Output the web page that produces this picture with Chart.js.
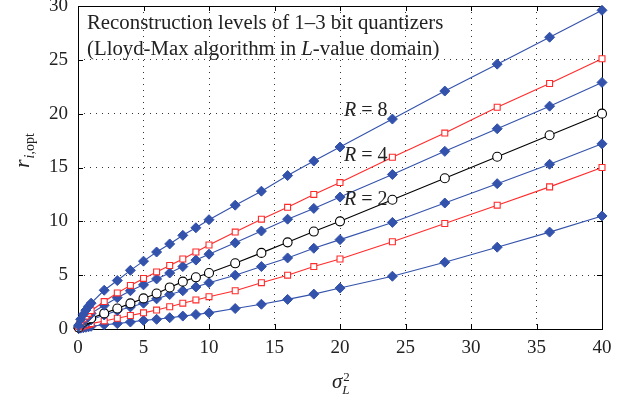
<!DOCTYPE html>
<html>
<head>
<meta charset="utf-8">
<script src="https://cdn.jsdelivr.net/npm/chart.js@4.4.0/dist/chart.umd.min.js"></script>
<style>
  html, body { margin: 0; padding: 0; background: #fff; }
</style>
</head>
<body>
<canvas id="quantChart" width="637" height="402"></canvas>
<script>
// sigma_L^2 sample points
const sigma2 = [0.05, 0.2, 0.4, 0.6, 0.8, 1, 2, 3, 4, 5, 6, 7, 8, 9, 10, 12, 14, 16, 18, 20, 24, 28, 32, 36, 40];

// 3 bit quantizer (4 positive levels), blue diamonds
const bit3Level4 = [0.35, 0.9, 1.35, 1.75, 2.1, 2.4, 3.6, 4.5, 5.45, 6.3, 7.15, 7.9, 8.7, 9.4, 10.15, 11.5, 12.8, 14.25, 15.6, 16.9, 19.5, 22.1, 24.6, 27.1, 29.6];
const bit3Level3 = [0.2, 0.5, 0.75, 0.95, 1.15, 1.45, 2.2, 2.9, 3.55, 4.1, 4.65, 5.2, 5.8, 6.4, 6.95, 8.0, 9.1, 10.2, 11.2, 12.25, 14.35, 16.5, 18.6, 20.7, 22.9];
const bit3Level2 = [0.1, 0.3, 0.45, 0.6, 0.72, 0.85, 1.3, 1.7, 2.05, 2.4, 2.8, 3.2, 3.55, 3.9, 4.3, 5.0, 5.8, 6.6, 7.5, 8.3, 9.9, 11.7, 13.5, 15.3, 17.2];
const bit3Level1 = [0.03, 0.08, 0.12, 0.16, 0.2, 0.25, 0.4, 0.5, 0.65, 0.8, 0.9, 1.05, 1.2, 1.35, 1.5, 1.9, 2.3, 2.75, 3.24, 3.8, 4.9, 6.2, 7.6, 9.0, 10.5];

// 2 bit quantizer (2 positive levels), red squares
const bit2Level2 = [0.25, 0.65, 0.95, 1.2, 1.45, 1.7, 2.55, 3.35, 4.05, 4.7, 5.3, 5.9, 6.5, 7.15, 7.8, 9.0, 10.2, 11.3, 12.5, 13.6, 15.95, 18.2, 20.6, 22.8, 25.1];
const bit2Level1 = [0.06, 0.18, 0.27, 0.35, 0.42, 0.5, 0.75, 1.0, 1.25, 1.5, 1.76, 2.07, 2.4, 2.7, 3.0, 3.55, 4.3, 5.0, 5.8, 6.5, 8.1, 9.8, 11.5, 13.2, 15.0];

// 1 bit quantizer, black circles
const bit1Level1 = [0.15, 0.45, 0.65, 0.8, 0.92, 1.0, 1.45, 1.9, 2.38, 2.84, 3.3, 3.86, 4.4, 4.8, 5.2, 6.1, 7.07, 8.05, 9.05, 10.0, 12.0, 14.0, 16.0, 18.0, 20.0];

const xTickStep = 5;
const yTickStep = 5;

const serif = '"Liberation Serif", "DejaVu Serif", serif';
const blue = '#3352ab';
const red = '#ff2b2b';

function toPoints(values) {
	return sigma2.map((s, i) => ({x: s, y: values[i]}));
}

function blueSet(values) {
	return {
		data: toPoints(values),
		borderColor: blue,
		backgroundColor: blue,
		borderWidth: 1.1,
		pointStyle: 'rectRot',
		pointRadius: 5,
		pointBorderWidth: 1,
		clip: false
	};
}

function redSet(values) {
	return {
		data: toPoints(values),
		borderColor: red,
		backgroundColor: '#ffffff',
		borderWidth: 1.1,
		pointStyle: 'rect',
		pointRadius: 4.2,
		pointBorderWidth: 1.1,
		clip: false
	};
}

function blackSet(values) {
	return {
		data: toPoints(values),
		borderColor: '#000000',
		backgroundColor: '#ffffff',
		borderWidth: 1.1,
		pointStyle: 'circle',
		pointRadius: 4.5,
		pointBorderWidth: 1.1,
		clip: false
	};
}

// box around the plot with MATLAB style inward ticks
const framePlugin = {
	id: 'frame',
	beforeDatasetsDraw(chart) {
		const {ctx, chartArea: a, scales} = chart;
		ctx.save();
		ctx.strokeStyle = '#000';
		ctx.lineWidth = 1;
		ctx.strokeRect(a.left + 0.5, a.top + 0.5, a.right - a.left, a.bottom - a.top);
		ctx.beginPath();
		scales.x.ticks.forEach(t => {
			let px = Math.round(scales.x.getPixelForValue(t.value)) + 0.5;
			ctx.moveTo(px, a.bottom); ctx.lineTo(px, a.bottom - 5);
			ctx.moveTo(px, a.top); ctx.lineTo(px, a.top + 5);
		});
		scales.y.ticks.forEach(t => {
			let py = Math.round(scales.y.getPixelForValue(t.value)) + 0.5;
			ctx.moveTo(a.left, py); ctx.lineTo(a.left + 5, py);
			ctx.moveTo(a.right, py); ctx.lineTo(a.right - 5, py);
		});
		ctx.stroke();
		ctx.restore();
	}
};

function drawRuns(ctx, runs, x, y) {
	runs.forEach(r => {
		ctx.font = r.font;
		ctx.fillText(r.text, x, y + (r.dy || 0));
		x += ctx.measureText(r.text).width + (r.gap || 0);
	});
	return x;
}

const textPlugin = {
	id: 'texts',
	afterDraw(chart) {
		const {ctx, chartArea: a, scales} = chart;
		ctx.save();
		ctx.fillStyle = '#222';
		ctx.textBaseline = 'alphabetic';
		ctx.textAlign = 'left';

		// caption inside the plot
		ctx.font = '20.8px ' + serif;
		ctx.fillText('Reconstruction levels of 1\u20133 bit quantizers', a.left + 9, 29);
		drawRuns(ctx, [
			{text: '(Lloyd-Max algorithm in ', font: '20.8px ' + serif},
			{text: 'L', font: 'italic 20.8px ' + serif},
			{text: '-value domain)', font: '20.8px ' + serif}
		], a.left + 9, 55);

		// R labels
		[['8', 19.8], ['4', 15.65], ['2', 11.5]].forEach(([r, v]) => {
			let px = scales.x.getPixelForValue(20.3);
			let py = scales.y.getPixelForValue(v);
			drawRuns(ctx, [
				{text: 'R', font: 'italic 20px ' + serif},
				{text: ' = ' + r, font: '20px ' + serif}
			], px, py);
		});

		// x axis title: sigma_L^2
		let cx = (a.left + a.right) / 2 - 8;
		ctx.font = 'italic 21px ' + serif;
		ctx.fillText('\u03c3', cx, 388);
		let w = ctx.measureText('\u03c3').width;
		ctx.font = 'italic 13px ' + serif;
		ctx.fillText('L', cx + w, 394);
		ctx.font = '13px ' + serif;
		ctx.fillText('2', cx + w + 1, 381);

		// y axis title: r_{i,opt}
		ctx.translate(29, 168);
		ctx.rotate(-Math.PI / 2);
		drawRuns(ctx, [
			{text: 'r', font: 'italic 22px ' + serif, gap: 1},
			{text: 'i', font: 'italic 14px ' + serif, dy: 5},
			{text: ',opt', font: '14px ' + serif, dy: 5}
		], 0, 0);
		ctx.restore();
	}
};

new Chart(document.getElementById('quantChart'), {
	type: 'line',
	data: {
		datasets: [
			blueSet(bit3Level4),
			redSet(bit2Level2),
			blueSet(bit3Level3),
			blackSet(bit1Level1),
			blueSet(bit3Level2),
			redSet(bit2Level1),
			blueSet(bit3Level1)
		]
	},
	options: {
		responsive: false,
		animation: false,
		layout: {padding: {top: 5, right: 35, left: 0, bottom: 0}},
		elements: {line: {tension: 0}},
		scales: {
			x: {
				type: 'linear',
				min: 0,
				max: 40,
				afterFit: s => { s.height = 73; s.paddingLeft = 0; s.paddingRight = 0; },
				ticks: {stepSize: xTickStep, padding: 8, color: '#222', font: {family: serif, size: 19}},
				grid: {drawTicks: false, color: '#333', lineWidth: 1},
				border: {display: false, dash: [1, 5]}
			},
			y: {
				type: 'linear',
				min: 0,
				max: 30,
				afterFit: s => { s.width = 78; s.paddingTop = 0; s.paddingBottom = 0; },
				ticks: {stepSize: yTickStep, padding: 10, color: '#222', font: {family: serif, size: 19}},
				grid: {drawTicks: false, color: '#333', lineWidth: 1},
				border: {display: false, dash: [1, 5]}
			}
		},
		plugins: {
			legend: {display: false},
			tooltip: {enabled: false}
		}
	},
	plugins: [framePlugin, textPlugin]
});
</script>
</body>
</html>
